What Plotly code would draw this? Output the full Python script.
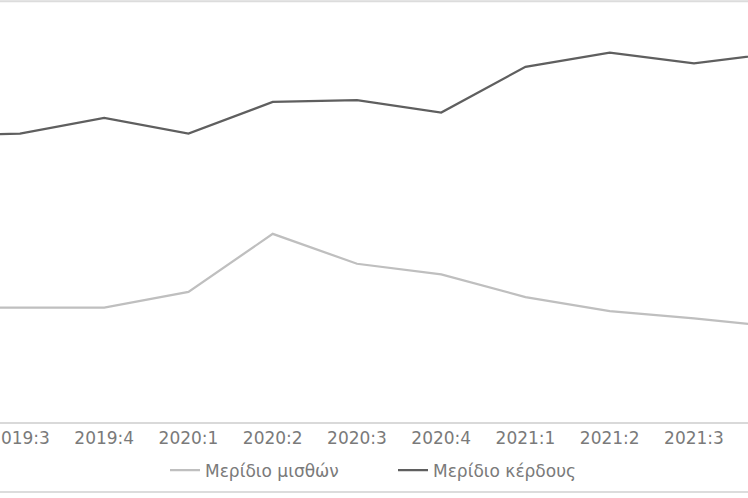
"""Wage share vs profit share line chart."""

import plotly.graph_objects as go

# Quarters (first and last fall just outside the visible crop)
quarters = ['2019:2', '2019:3', '2019:4', '2020:1', '2020:2', '2020:3',
            '2020:4', '2021:1', '2021:2', '2021:3', '2021:4']

# Shares (%)
wage_share = [34.5, 34.5, 34.5, 35.4, 38.7, 37.0, 36.4, 35.1, 34.3, 33.9, 33.4]
profit_share = [44.3, 44.4, 45.3, 44.4, 46.2, 46.3, 45.6, 48.2, 49.0, 48.4, 49.0]

wage_label = 'Μερίδιο μισθών'
profit_label = 'Μερίδιο κέρδους'

font_family = 'DejaVu Sans'
text_color = '#7a7a7a'

fig = go.Figure()

fig.add_trace(go.Scatter(
    x=quarters, y=wage_share,
    mode='lines',
    name=wage_label,
    line=dict(color='#bfbfbf', width=2.25),
))

fig.add_trace(go.Scatter(
    x=quarters, y=profit_share,
    mode='lines',
    name=profit_label,
    line=dict(color='#5f5f5f', width=2.25),
))

# Outer chart border (partly cropped in the reference)
fig.add_shape(type='rect', xref='paper', yref='paper',
              x0=-0.01, x1=1.01, y0=-0.166, y1=0.997,
              line=dict(color='#dcdcdc', width=2), layer='below')

fig.update_layout(
    width=748,
    height=498,
    margin=dict(l=0, r=0, t=0, b=76, autoexpand=False),
    paper_bgcolor='white',
    plot_bgcolor='white',
    font=dict(family=font_family, color=text_color, size=17),
    showlegend=True,
    legend=dict(
        orientation='h',
        x=165 / 748, xanchor='left',
        y=-0.115, yanchor='middle',
        entrywidth=183,
        font=dict(family=font_family, color=text_color, size=17),
        bgcolor='rgba(0,0,0,0)',
    ),
    xaxis=dict(
        type='category',
        range=[0.763, 9.641],
        automargin=False,
        showline=True,
        linecolor='#d9d9d9',
        linewidth=1.5,
        showgrid=False,
        zeroline=False,
        ticks='',
        tickfont=dict(family=font_family, color=text_color, size=17),
    ),
    yaxis=dict(
        range=[28, 52],
        visible=False,
        automargin=False,
        showgrid=False,
        zeroline=False,
    ),
)

# drop the browser's default body margin so the figure sits at the corner
fig.write_html('out.html', config={'displayModeBar': False},
               post_script="document.body.style.margin='0';")
